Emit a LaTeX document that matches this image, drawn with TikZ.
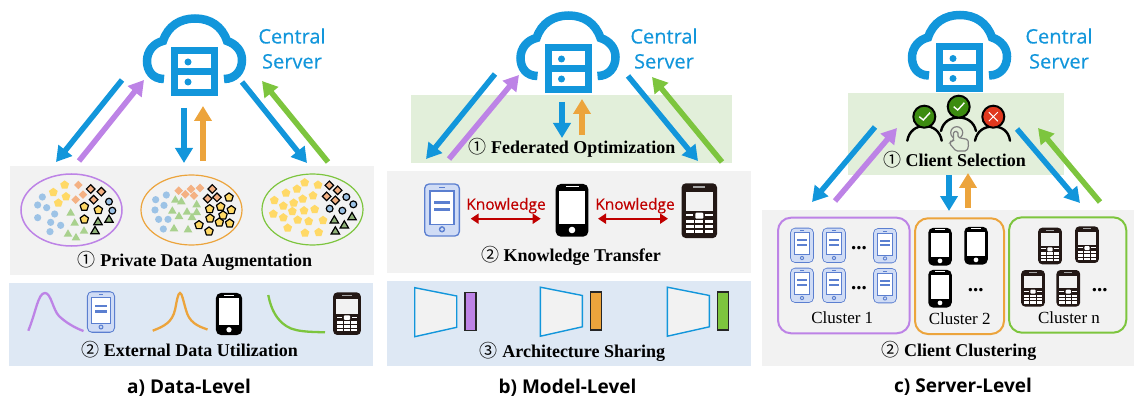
\documentclass[tikz,border=0pt]{standalone}
\usepackage{fontspec}
\setmainfont{Liberation Serif}
\newfontfamily\uisans{Open Sans}
\newfontfamily\srvfont[FakeBold=0.35]{Open Sans}
\newfontfamily\cjk{Noto Sans CJK SC}
\usetikzlibrary{arrows.meta}
\definecolor{arrblue}{HTML}{1296DB}
\definecolor{arrpurple}{HTML}{BD83E6}
\definecolor{arrorange}{HTML}{ECA43C}
\definecolor{arrgreen}{HTML}{7DC53E}
\definecolor{panelgray}{HTML}{F2F2F2}
\definecolor{panelblue}{HTML}{DEE8F4}
\definecolor{panelgreen}{HTML}{E2EFDA}
\definecolor{ltblue}{HTML}{9DC3E6}
\definecolor{ltyellow}{HTML}{FFD966}
\definecolor{ltorange}{HTML}{F4B183}
\definecolor{ltgreen}{HTML}{A9D18E}
\definecolor{phoneblue}{HTML}{5B7FD0}
\definecolor{phonefill}{HTML}{D0DCF5}
\definecolor{phonedark}{HTML}{231815}
\definecolor{kred}{HTML}{C00000}
\definecolor{okgreen}{HTML}{3C8C10}
\definecolor{nored}{HTML}{E0391E}
\newcommand\scat[4]{\foreach \x/\y in {#4}{\pic at ({#1+\x/3},{#2+\y/3}) {#3};}}
\newcommand\conn[5]{\coordinate (#1s) at (#3); \coordinate (#1e) at (#4); \draw[#2,#5] (#1s) -- (#1e);}
\tikzset{
  bigarrow/.style={line width=5.5pt,-{Triangle[length=15pt,width=17pt]}},
  captxt/.style={inner sep=0pt,font=\fontsize{18}{20}\selectfont\bfseries},
  titletxt/.style={inner sep=0pt,font=\uisans\fontsize{19}{22}\selectfont\bfseries},
  srvtxt/.style={inner sep=0pt,text=arrblue,align=center,font=\srvfont\fontsize{20}{25}\selectfont},
  clustertxt/.style={inner sep=0pt,font=\fontsize{17}{18}\selectfont},
  dotstxt/.style={inner sep=0pt,anchor=base,font=\fontsize{21}{22}\selectfont\bfseries},
  ktxt/.style={inner sep=0pt,text=kred,font=\srvfont\fontsize{15.5}{16}\selectfont},
  karrow/.style={kred,line width=2.4pt,{Triangle[length=8pt,width=10pt]}-{Triangle[length=8pt,width=10pt]}},
  clusterbox/.style={line width=2pt,rounded corners=13pt},
  ring/.style={draw=black,line width=2pt},
  shoulder/.style={draw=black,line width=2.4pt,line cap=round},
  lcirc/.pic={\fill[ltblue] (0,0) circle (3.6);},
  bcirc/.pic={\filldraw[fill=ltblue,draw=black,line width=1.2pt] (0,0) circle (3.4);},
  lpent/.pic={\fill[ltyellow] (0,-4.6)--(4.4,-1.4)--(2.7,3.7)--(-2.7,3.7)--(-4.4,-1.4)--cycle;},
  bpent/.pic={\filldraw[fill=ltyellow,draw=black,line width=1.2pt,line join=round] (0,-4.4)--(4.2,-1.4)--(2.6,3.6)--(-2.6,3.6)--(-4.2,-1.4)--cycle;},
  ldiam/.pic={\fill[ltorange] (0,-4.3)--(4.3,0)--(0,4.3)--(-4.3,0)--cycle;},
  bdiam/.pic={\filldraw[fill=ltorange,draw=black,line width=1.2pt] (0,-4.3)--(4.3,0)--(0,4.3)--(-4.3,0)--cycle;},
  ltri/.pic={\fill[ltgreen] (0,-4.4)--(4.3,3)--(-4.3,3)--cycle;},
  btri/.pic={\filldraw[fill=ltgreen!85!black,draw=black,line width=1.2pt,line join=miter] (0,-4.2)--(4.2,3)--(-4.2,3)--cycle;},
  cloudsrv/.pic={
    \draw[arrblue,line width=8.5pt] (-30.5,7.5) .. controls (-42,7.5) and (-47.5,-1) .. (-47.5,-10.5)
      .. controls (-47.5,-20.5) and (-40.5,-28.5) .. (-31.5,-30.5)
      .. controls (-26.5,-45.5) and (-14.5,-53) .. (0.5,-53)
      .. controls (15.5,-53) and (27.5,-45.5) .. (32.5,-30.5)
      .. controls (41.5,-27.5) and (47.5,-20.5) .. (47.5,-11.5)
      .. controls (47.5,-0.5) and (40.5,7.5) .. (29.5,7.5);
    \fill[arrblue] (-23.5,-24.5) rectangle (23.5,24.5);
    \fill[white] (-16.5,-17.5) rectangle (16.5,-3.5);
    \fill[white] (-16.5,3.5) rectangle (16.5,17.5);
    \fill[arrblue] (-6.5,-9.5) circle (3.5);
    \fill[arrblue] (-6.5,10.5) circle (3.5);
  },
  phonea/.pic={
    \fill[phoneblue,rounded corners=5pt] (-18,-26.7) rectangle (18,26.7);
    \fill[phonefill,rounded corners=4pt] (-16.6,-25.3) rectangle (16.6,25.3);
    \fill[phoneblue] (-12.6,-19.6) rectangle (12.6,15);
    \fill[white] (-11.2,-18.2) rectangle (11.2,13.6);
    \fill[phoneblue] (-8,-9.3) rectangle (8,-6.3);
    \fill[phoneblue] (-8,-2.3) rectangle (8,0.7);
    \fill[phoneblue] (0,19.3) circle (3.2);
    \fill[phonefill] (0,19.3) circle (1.8);
    \fill[phoneblue] (-3,-22.8) rectangle (3,-21.6);
  },
  phoneb/.pic={
    \fill[black,rounded corners=5pt] (-16.3,-26.3) rectangle (16.3,26.3);
    \fill[white] (-13,-19.7) rectangle (13,13.7);
    \fill[white] (0,19.7) circle (3.3);
    \fill[white] (-6.5,-24.2) rectangle (6.5,-23);
  },
  phonec/.pic={
    \fill[phonedark,rounded corners=4pt] (-17.7,-27.3) rectangle (17.7,27.3);
    \fill[panelgray] (-13.7,-19) rectangle (13.7,0);
    \fill[gray!70] (-6,-24.6) rectangle (6,-23);
    \fill[white,rounded corners=1pt] (-4,2) rectangle (4,8);
    \fill[white] (-13.3,3.6) rectangle (-6,5.2);
    \fill[white] (6,3.6) rectangle (13.3,5.2);
    \foreach \ky in {9.3,14.3,19.3}{
      \fill[white] (-13.3,\ky) rectangle (-5.3,\ky+3.4);
      \fill[white] (-4,\ky) rectangle (4,\ky+3.4);
      \fill[white] (5.3,\ky) rectangle (13.3,\ky+3.4);
    }
  },
}
\begin{document}
\begin{tikzpicture}[x=1pt,y=-1pt]
\useasboundingbox (0,0) rectangle (1134,398);
% panels
\fill[panelgray] (10,166) rectangle (374,275);
\fill[panelblue] (9,283) rectangle (373,366);
\fill[panelgray] (387,171) rectangle (751,273);
\fill[panelblue] (387,281) rectangle (751,366);
\fill[panelgray] (762,210) rectangle (1134,366);
% clouds
\pic at (194.5,71.5) {cloudsrv};
\pic at (568,68.5) {cloudsrv};
\pic at (959.5,68) {cloudsrv};
\fill[panelgreen] (411,95) rectangle (732,163);
\fill[panelgreen] (848,93) rectangle (1064,175);
\node[srvtxt] (srva) at (292,48.5) {Central\\Server};
\node[srvtxt] (srvb) at (664,48.5) {Central\\Server};
\node[srvtxt] (srvc) at (1059,48.5) {Central\\Server};
% arrows a
\conn{a1}{arrblue}{122,80}{56,162}{bigarrow}
\conn{a2}{arrpurple}{79,161}{144,80}{bigarrow}
\conn{a3}{arrblue}{184,108}{184,163}{bigarrow}
\conn{a4}{arrorange}{203,161}{203,106}{bigarrow}
\conn{a5}{arrblue}{242,82}{307,163}{bigarrow}
\conn{a6}{arrgreen}{328,162}{262,81}{bigarrow}
% arrows b
\conn{b1}{arrblue}{495,74}{426,159}{bigarrow}
\conn{b2}{arrpurple}{449,159}{519,75}{bigarrow}
\conn{b3}{arrblue}{562,102}{562,138}{bigarrow}
\conn{b4}{arrorange}{582,135}{582,99}{bigarrow}
\conn{b5}{arrblue}{628,76}{698,161}{bigarrow}
\conn{b6}{arrgreen}{722,162}{652,77}{bigarrow}
% arrows c
\conn{c1}{arrblue}{875,127}{812,202}{bigarrow}
\conn{c2}{arrpurple}{835,201}{897,128}{bigarrow}
\conn{c3}{arrblue}{949,175}{949,211}{bigarrow}
\conn{c4}{arrorange}{968,208}{968,173}{bigarrow}
\conn{c5}{arrblue}{1017,129}{1080,203}{bigarrow}
\conn{c6}{arrgreen}{1100,202}{1038,128}{bigarrow}
% ellipses
\draw[arrpurple,line width=1.5pt] (71.5,210) ellipse [x radius=50.5,y radius=36];
\draw[arrorange,line width=1.2pt] (191.5,210) ellipse [x radius=50.5,y radius=35];
\draw[arrgreen,line width=1.2pt] (312.5,209.5) ellipse [x radius=50.5,y radius=35.5];
% scatter 1
\scat{10}{165}{lcirc}{97/96,83/120,110/128,134/147,83/158,122/172,152/181,120/200}
\scat{10}{165}{lpent}{130/82,164/60,168/95,145/114}
\scat{10}{165}{ldiam}{205/60,219/89,197/104}
\scat{10}{165}{ltri}{182/143,194/173,222/197,174/206,198/217}
\scat{10}{165}{bdiam}{242/72,274/80,251/104}
\scat{10}{165}{bpent}{223/125,265/135,223/163}
\scat{10}{165}{bcirc}{297/110,307/137}
\scat{10}{165}{btri}{264/170,297/163,255/197}
% scatter 2
\scat{130}{165}{lcirc}{77/104,109/90,75/135,102/121,86/163,114/163,100/192}
\scat{130}{165}{ldiam}{146/77,183/72,210/69,166/88,192/92}
\scat{130}{165}{ltri}{136/104,154/109,200/118,127/137,171/140,147/153,186/156,200/141,132/190,174/193}
\scat{130}{165}{bdiam}{247/72,233/101,261/97}
\scat{130}{165}{bpent}{297/97,239/132,272/125,304/135,240/160,279/151,268/172,299/175,207/180,237/199}
% scatter 3
\scat{250}{165}{lpent}{164/53,204/60,108/84,141/72,73/106,189/92,158/102,131/114,100/123,127/139,162/137,194/133,70/147,100/158,143/165,176/169,219/166,113/189,165/204,206/202}
\scat{250}{165}{bdiam}{238/61,263/76,230/94,256/106}
\scat{250}{165}{bcirc}{289/96,310/118,239/131,277/137}
\scat{250}{165}{btri}{253/165,306/155,283/180,256/198}
% distribution curves and phones a
\draw[arrpurple,line width=2.3pt] (28.3,330.7) .. controls (36,312) and (38,293) .. (45,293) .. controls (51,293) and (53,310) .. (59,316) .. controls (65,322) and (75,328) .. (83.5,331);
\draw[arrorange,line width=2.3pt] (152.7,330.7) .. controls (165,326) and (172,322) .. (175,310) .. controls (177,300) and (178,293) .. (180,293) .. controls (182,293) and (183,300) .. (186,310) .. controls (189,322) and (197,326) .. (207.5,329.5);
\draw[arrgreen,line width=2.3pt] (268.3,295) .. controls (272,315) and (282,327) .. (296,330) .. controls (305,332) and (315,332) .. (325,332.3);
\pic[scale=.78] at (101,312) {phonea};
\pic[scale=.8] at (229,314) {phoneb};
\pic[scale=.78] at (347,313.7) {phonec};
% knowledge row
\pic at (442,210) {phonea};
\pic at (572,210.3) {phoneb};
\pic at (699.3,210.7) {phonec};
\node[ktxt] (k1) at (506,205.7) {Knowledge};
\node[ktxt] (k2) at (635,205.7) {Knowledge};
\conn{k3}{karrow}{470.7,218.7}{540.7,218.7}{}
\conn{k4}{karrow}{598,218.7}{668,218.7}{}
% architecture sharing
\foreach \off/\col/\dy in {0/arrpurple/0,125.7/arrorange/-0.5,252.7/arrgreen/-0.5}{
  \begin{scope}[shift={(\off,\dy)}]
    \filldraw[fill=panelgray,draw=arrblue,line width=1.4pt] (414.7,287.7)--(456.7,296)--(456.7,327.3)--(414.7,336.7)--cycle;
    \filldraw[fill=\col,draw=black!85,line width=1.3pt] (465,292.6) rectangle (476,330.4);
  \end{scope}
}
% clusters
\draw[arrpurple,clusterbox] (778,217.7) rectangle (909.7,333.3);
\draw[arrorange,clusterbox] (915,218.3) rectangle (1004,334);
\draw[arrgreen,clusterbox] (1009,217.3) rectangle (1126.3,332.7);
\foreach \px/\py in {802/245.3,834/245.3,885/245.7,802/285.3,834/285.3,885/285.7}{\pic[scale=.66] at (\px,\py) {phonea};}
\foreach \px/\py in {940/246.7,976/245.7,940/288.7}{\pic[scale=.72] at (\px,\py) {phoneb};}
\foreach \px/\py in {1050/246,1087/244.7,1033/288.3,1068.3/288.3}{\pic[scale=.67] at (\px,\py) {phonec};}
\node[dotstxt] (d1) at (859,249.5) {...};
\node[dotstxt] (d2) at (859,289) {...};
\node[dotstxt] (d3) at (975.7,291) {...};
\node[dotstxt] (d4) at (1099.7,291.5) {...};
\node[clustertxt] (cl1) at (842.3,317.7) {Cluster 1};
\node[clustertxt] (cl2) at (959.7,318.7) {Cluster 2};
\node[clustertxt] (cl3) at (1069,318) {Cluster n};
% people
\draw[shoulder] (907.3,140.7) .. controls (909,131) and (916,126) .. (924.5,126) .. controls (933,126) and (940,131) .. (941.7,140.7);
\draw[shoulder] (941,131) .. controls (943,122) and (950,117.5) .. (958.7,117.5) .. controls (967,117.5) and (974,122) .. (976,131);
\draw[shoulder] (975,140.7) .. controls (977,131) and (984,126.5) .. (993,126.5) .. controls (1002,126.5) and (1008.5,131) .. (1010,140.7);
\filldraw[fill=okgreen,ring] (924.3,116.7) circle (11);
\filldraw[fill=okgreen,ring] (958.7,106.7) circle (11);
\filldraw[fill=nored,ring] (993.3,116.7) circle (11);
\draw[white,line width=1.4pt] (919.3,116.7) -- (923.3,120) -- (930,112.7);
\draw[white,line width=1.4pt] (953.7,106.7) -- (957.7,110) -- (964.4,102.7);
\draw[white,line width=1pt] (988.8,112.2) -- (997.8,121.2) (988.8,121.2) -- (997.8,112.2);
% hand
\draw[gray,line width=1.2pt] (956.7,132.7) circle (6);
\filldraw[fill=panelgreen,draw=gray,line width=1.2pt,rounded corners=1.5pt] (953.5,141) -- (953.5,131.5) -- (958,131.5) -- (958,137.5) -- (968,139.5) -- (968.5,147) -- (966.5,151) -- (956,151) -- (949.5,143.5) -- (951,141) -- cycle;
% captions
\node[captxt] (capa1) at (195,261) {{\cjk\mdseries ①} Private Data Augmentation};
\node[captxt] (capa2) at (189.7,350) {{\cjk\mdseries ②} External Data Utilization};
\node[captxt] (capb1) at (572,147.7) {{\cjk\mdseries ①} Federated Optimization};
\node[captxt] (capb2) at (571,256) {{\cjk\mdseries ②} Knowledge Transfer};
\node[captxt] (capb3) at (572.5,352) {{\cjk\mdseries ③} Architecture Sharing};
\node[captxt] (capc1) at (954.5,160) {{\cjk\mdseries ①} Client Selection};
\node[captxt] (capc2) at (959,351) {{\cjk\mdseries ②} Client Clustering};
\node[titletxt] (ta) at (189,387.5) {a) Data-Level};
\node[titletxt] (tb) at (567.5,387.5) {b) Model-Level};
\node[titletxt] (tc) at (963,387) {c) Server-Level};
\end{tikzpicture}
\end{document}
